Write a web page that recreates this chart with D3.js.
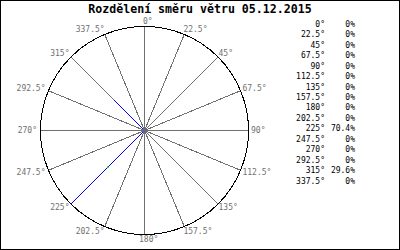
<!DOCTYPE html>
<html>
<head>
<meta charset="utf-8">
<script src="https://cdn.jsdelivr.net/npm/d3@7"></script>
<style>
body { margin: 0; background: white; }
svg { display: block; }
</style>
</head>
<body>
<svg></svg>
<script>

var title = "Rozdělení směru větru 05.12.2015"
var directions = [0, 22.5, 45, 67.5, 90, 112.5, 135, 157.5, 180, 202.5, 225, 247.5, 270, 292.5, 315, 337.5]
var percents = [0, 0, 0, 0, 0, 0, 0, 0, 0, 0, 70.4, 0, 0, 0, 29.6, 0]

var width = 400, height = 250
var cx = 144, cy = 130, r = 104
var font = "'DejaVu Sans Mono', monospace"

var svg = d3.select("svg")
    .attr("width", width)
    .attr("height", height)

// ramecek
svg.append("rect")
    .attr("x", 0.5).attr("y", 0.5)
    .attr("width", width - 1).attr("height", height - 1)
    .attr("fill", "white")
    .attr("stroke", "black")

svg.append("text")
    .attr("x", 200).attr("y", 13)
    .attr("text-anchor", "middle")
    .attr("font-family", font)
    .attr("font-weight", "bold")
    .attr("font-size", 11.6)
    .attr("fill", "black")
    .text(title)

// uhel -> radiany (0 nahore, po smeru hodin)
var angle = d3.scaleLinear().domain([0, 360]).range([0, 2 * Math.PI])
var radius = d3.scaleLinear().domain([0, d3.max(percents)]).range([0, r])

function px(deg, len) { return cx + len * Math.sin(angle(deg)) }
function py(deg, len) { return cy - len * Math.cos(angle(deg)) }

var g = svg.append("g")

// paprsky
g.selectAll(".spoke")
    .data(directions)
    .enter().append("line")
    .attr("x1", cx + 0.5).attr("y1", cy + 0.5)
    .attr("x2", function (d) { return px(d, r) + 0.5 })
    .attr("y2", function (d) { return py(d, r) + 0.5 })
    .attr("stroke", "#707070")
    .attr("stroke-width", 1)
    .attr("shape-rendering", "crispEdges")

g.append("circle")
    .attr("cx", cx + 0.5).attr("cy", cy + 0.5).attr("r", r)
    .attr("fill", "none")
    .attr("stroke", "black")
    .attr("stroke-width", 1)
    .attr("shape-rendering", "crispEdges")

// popisky kolem kruhu
g.selectAll(".lbl")
    .data(directions)
    .enter().append("text")
    .attr("font-family", font)
    .attr("font-size", 8)
    .attr("fill", "#707070")
    .attr("dominant-baseline", "middle")
    .attr("text-anchor", function (d) {
        var s = Math.sin(angle(d))
        if (s < -0.01) return "end"
        return "start"
    })
    .attr("x", function (d) {
        var s = Math.sin(angle(d))
        var x = px(d, r)
        if (Math.abs(s) < 0.01) return d == 0 ? x - 1 : x - 5
        var off = 4 * s * s - 1
        return s > 0 ? x + off : x - off
    })
    .attr("y", function (d) { return py(d, r) - 5 * Math.cos(angle(d)) + 0.5 })
    .text(function (d) { return d + "°" })

// cary vetru
var wind = directions.map(function (d, i) { return {dir: d, p: percents[i]} })
    .filter(function (d) { return d.p > 0 })

g.selectAll(".wind")
    .data(wind)
    .enter().append("line")
    .attr("x1", cx + 0.5).attr("y1", cy + 0.5)
    .attr("x2", function (d) { return px(d.dir, radius(d.p)) + 0.5 })
    .attr("y2", function (d) { return py(d.dir, radius(d.p)) + 0.5 })
    .attr("stroke", "#0000ff")
    .attr("stroke-width", 1)
    .attr("shape-rendering", "crispEdges")

// zelena znacka v pulce nejdelsi cary
var top1 = wind.reduce(function (a, b) { return b.p > a.p ? b : a })
g.append("circle")
    .attr("cx", px(top1.dir, radius(top1.p) / 2) + 0.5)
    .attr("cy", py(top1.dir, radius(top1.p) / 2) + 0.5)
    .attr("r", 1)
    .attr("fill", "#00cc00")

g.append("circle")
    .attr("cx", cx + 0.5).attr("cy", cy + 0.5).attr("r", 2.5)
    .attr("fill", "#666688")

// legenda vpravo
var rowY = d3.scaleLinear().domain([0, 15]).range([24.5, 181])

var leg = svg.append("g")
    .attr("font-family", font)
    .attr("font-size", 8)
    .attr("fill", "black")
    .attr("dominant-baseline", "middle")

leg.selectAll(".ld")
    .data(directions)
    .enter().append("text")
    .attr("x", 325).attr("text-anchor", "end")
    .attr("y", function (d, i) { return rowY(i) })
    .text(function (d) { return d + "°" })

leg.selectAll(".lp")
    .data(percents)
    .enter().append("text")
    .attr("x", 355).attr("text-anchor", "end")
    .attr("y", function (d, i) { return rowY(i) })
    .text(function (d) { return d + "%" })

</script>
</body>
</html>
